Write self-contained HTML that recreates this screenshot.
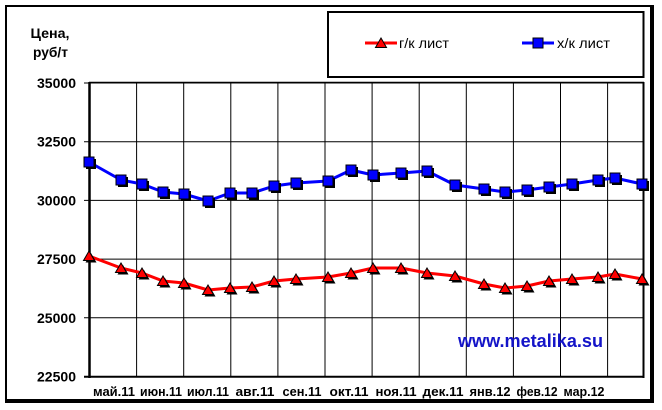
<!DOCTYPE html>
<html><head><meta charset="utf-8"><style>
html,body{margin:0;padding:0;background:#fff;}
svg{display:block;}
text{font-family:"Liberation Sans",Arial,sans-serif;}
</style></head><body>
<svg width="662" height="410" viewBox="0 0 662 410" xmlns="http://www.w3.org/2000/svg">
<rect x="0" y="0" width="662" height="410" fill="#fff"/>
<!-- outer frame -->
<rect x="5" y="5" width="649" height="2" fill="#000"/>
<rect x="5" y="5" width="2" height="398" fill="#000"/>
<rect x="650" y="5" width="4" height="398" fill="#000"/>
<rect x="5" y="399" width="649" height="4" fill="#000"/>

<!-- legend box -->
<rect x="328" y="12" width="315.5" height="65" fill="#fff" stroke="#000" stroke-width="2"/>
<line x1="365" y1="43" x2="397" y2="43" stroke="#f00" stroke-width="3"/>
<polygon points="381,38 375.5,47.5 386.5,47.5" fill="#f00" stroke="#000" stroke-width="1"/>
<text x="399" y="48" font-size="14" fill="#000" textLength="50" lengthAdjust="spacingAndGlyphs">г/к лист</text>
<line x1="522" y1="43" x2="554" y2="43" stroke="#00f" stroke-width="3"/>
<rect x="533" y="38" width="10" height="10" fill="#00f" stroke="#000" stroke-width="1"/>
<text x="557" y="48" font-size="14" fill="#000" textLength="53" lengthAdjust="spacingAndGlyphs">х/к лист</text>

<!-- y title -->
<text x="50" y="38" font-size="13.5" font-weight="bold" text-anchor="middle" textLength="39" lengthAdjust="spacingAndGlyphs">Цена,</text>
<text x="50.5" y="57" font-size="13.5" font-weight="bold" text-anchor="middle" textLength="35" lengthAdjust="spacingAndGlyphs">руб/т</text>

<!-- grid -->
<g stroke="#000" stroke-width="1">
<line x1="89" y1="83" x2="644" y2="83"/>
<line x1="84" y1="141.7" x2="644" y2="141.7"/>
<line x1="84" y1="200.4" x2="644" y2="200.4"/>
<line x1="84" y1="259.1" x2="644" y2="259.1"/>
<line x1="84" y1="317.8" x2="644" y2="317.8"/>
<line x1="84" y1="83" x2="90" y2="83"/>
<line x1="84" y1="376.5" x2="90" y2="376.5"/>
<line x1="136.6" y1="83" x2="136.6" y2="377"/>
<line x1="183.7" y1="83" x2="183.7" y2="377"/>
<line x1="230.8" y1="83" x2="230.8" y2="377"/>
<line x1="277.9" y1="83" x2="277.9" y2="377"/>
<line x1="325" y1="83" x2="325" y2="377"/>
<line x1="372.1" y1="83" x2="372.1" y2="377"/>
<line x1="419.2" y1="83" x2="419.2" y2="377"/>
<line x1="466.3" y1="83" x2="466.3" y2="377"/>
<line x1="513.4" y1="83" x2="513.4" y2="377"/>
<line x1="560.5" y1="83" x2="560.5" y2="377"/>
<line x1="607.6" y1="83" x2="607.6" y2="377"/>
</g>
<line x1="643.5" y1="82" x2="643.5" y2="378" stroke="#000" stroke-width="2"/>
<line x1="89" y1="82.5" x2="644" y2="82.5" stroke="#000" stroke-width="1.5"/>
<line x1="89.5" y1="82" x2="89.5" y2="378" stroke="#000" stroke-width="2.5"/>
<line x1="84" y1="376.8" x2="644" y2="376.8" stroke="#000" stroke-width="2"/>

<!-- y labels -->
<g font-size="14" font-weight="bold" text-anchor="end">
<text x="76" y="88" textLength="39" lengthAdjust="spacingAndGlyphs">35000</text>
<text x="76" y="146.7" textLength="39" lengthAdjust="spacingAndGlyphs">32500</text>
<text x="76" y="205.4" textLength="39" lengthAdjust="spacingAndGlyphs">30000</text>
<text x="76" y="264.1" textLength="39" lengthAdjust="spacingAndGlyphs">27500</text>
<text x="76" y="322.8" textLength="39" lengthAdjust="spacingAndGlyphs">25000</text>
<text x="76" y="381.5" textLength="39" lengthAdjust="spacingAndGlyphs">22500</text>
</g>

<!-- x labels -->
<g font-size="13" font-weight="bold" text-anchor="middle">
<text x="114" y="396" textLength="42" lengthAdjust="spacingAndGlyphs">май.11</text>
<text x="161" y="396" textLength="42" lengthAdjust="spacingAndGlyphs">июн.11</text>
<text x="208" y="396" textLength="42" lengthAdjust="spacingAndGlyphs">июл.11</text>
<text x="255" y="396" textLength="39" lengthAdjust="spacingAndGlyphs">авг.11</text>
<text x="302" y="396" textLength="39" lengthAdjust="spacingAndGlyphs">сен.11</text>
<text x="349" y="396" textLength="39" lengthAdjust="spacingAndGlyphs">окт.11</text>
<text x="396" y="396" textLength="41" lengthAdjust="spacingAndGlyphs">ноя.11</text>
<text x="443" y="396" textLength="41" lengthAdjust="spacingAndGlyphs">дек.11</text>
<text x="490" y="396" textLength="41" lengthAdjust="spacingAndGlyphs">янв.12</text>
<text x="537" y="396" textLength="41" lengthAdjust="spacingAndGlyphs">фев.12</text>
<text x="584" y="396" textLength="41" lengthAdjust="spacingAndGlyphs">мар.12</text>
</g>

<!-- watermark -->
<text x="458" y="347" font-size="18" font-weight="bold" fill="#1414c8" textLength="145" lengthAdjust="spacingAndGlyphs">www.metalika.su</text>

<!-- series lines -->
<polyline fill="none" stroke="#00f" stroke-width="3" stroke-linejoin="round"
 points="89,162 121,180 142,184 163,192 184,194 208,201 230,193 252,193 274,186 296,183 328,181 351,170 373,175 401,173 427,171 455,185 484,189 505,192 527,190 549,187 572,184 598,180 615,178 642,184"/>
<polyline fill="none" stroke="#f00" stroke-width="3" stroke-linejoin="round"
 points="89,256 121,268 142,273 163,281 184,283 208,290 230,288 252,287 274,281 296,279 328,277 351,273 373,268 401,268 427,273 455,276 484,284 505,288 527,286 549,281 572,279 598,277 615,274 642,279"/>

<!-- blue markers -->
<g id="bs">
<g fill="#000">
<rect x="86" y="159" width="10" height="10"/><rect x="118" y="177" width="10" height="10"/><rect x="139" y="181" width="10" height="10"/><rect x="160" y="189" width="10" height="10"/><rect x="181" y="191" width="10" height="10"/><rect x="205" y="198" width="10" height="10"/><rect x="227" y="190" width="10" height="10"/><rect x="249" y="190" width="10" height="10"/><rect x="271" y="183" width="10" height="10"/><rect x="293" y="180" width="10" height="10"/><rect x="325" y="178" width="10" height="10"/><rect x="348" y="167" width="10" height="10"/><rect x="370" y="172" width="10" height="10"/><rect x="398" y="170" width="10" height="10"/><rect x="424" y="168" width="10" height="10"/><rect x="452" y="182" width="10" height="10"/><rect x="481" y="186" width="10" height="10"/><rect x="502" y="189" width="10" height="10"/><rect x="524" y="187" width="10" height="10"/><rect x="546" y="184" width="10" height="10"/><rect x="569" y="181" width="10" height="10"/><rect x="595" y="177" width="10" height="10"/><rect x="612" y="175" width="10" height="10"/><rect x="639" y="181" width="10" height="10"/>
</g>
<g fill="#00f" stroke="#000" stroke-width="1">
<rect x="84" y="157" width="10" height="10"/><rect x="116" y="175" width="10" height="10"/><rect x="137" y="179" width="10" height="10"/><rect x="158" y="187" width="10" height="10"/><rect x="179" y="189" width="10" height="10"/><rect x="203" y="196" width="10" height="10"/><rect x="225" y="188" width="10" height="10"/><rect x="247" y="188" width="10" height="10"/><rect x="269" y="181" width="10" height="10"/><rect x="291" y="178" width="10" height="10"/><rect x="323" y="176" width="10" height="10"/><rect x="346" y="165" width="10" height="10"/><rect x="368" y="170" width="10" height="10"/><rect x="396" y="168" width="10" height="10"/><rect x="422" y="166" width="10" height="10"/><rect x="450" y="180" width="10" height="10"/><rect x="479" y="184" width="10" height="10"/><rect x="500" y="187" width="10" height="10"/><rect x="522" y="185" width="10" height="10"/><rect x="544" y="182" width="10" height="10"/><rect x="567" y="179" width="10" height="10"/><rect x="593" y="175" width="10" height="10"/><rect x="610" y="173" width="10" height="10"/><rect x="637" y="179" width="10" height="10"/>
</g>
</g>

<!-- red markers -->
<defs>
<polygon id="trs" points="0,-5 -5.5,4.5 5.5,4.5" fill="#000" transform="translate(2,2)"/>
<polygon id="tr" points="0,-5 -5.5,4.5 5.5,4.5" fill="#f00" stroke="#000" stroke-width="1"/>
</defs>
<g>
<use href="#trs" x="89" y="256"/><use href="#tr" x="89" y="256"/>
<use href="#trs" x="121" y="268"/><use href="#tr" x="121" y="268"/>
<use href="#trs" x="142" y="273"/><use href="#tr" x="142" y="273"/>
<use href="#trs" x="163" y="281"/><use href="#tr" x="163" y="281"/>
<use href="#trs" x="184" y="283"/><use href="#tr" x="184" y="283"/>
<use href="#trs" x="208" y="290"/><use href="#tr" x="208" y="290"/>
<use href="#trs" x="230" y="288"/><use href="#tr" x="230" y="288"/>
<use href="#trs" x="252" y="287"/><use href="#tr" x="252" y="287"/>
<use href="#trs" x="274" y="281"/><use href="#tr" x="274" y="281"/>
<use href="#trs" x="296" y="279"/><use href="#tr" x="296" y="279"/>
<use href="#trs" x="328" y="277"/><use href="#tr" x="328" y="277"/>
<use href="#trs" x="351" y="273"/><use href="#tr" x="351" y="273"/>
<use href="#trs" x="373" y="268"/><use href="#tr" x="373" y="268"/>
<use href="#trs" x="401" y="268"/><use href="#tr" x="401" y="268"/>
<use href="#trs" x="427" y="273"/><use href="#tr" x="427" y="273"/>
<use href="#trs" x="455" y="276"/><use href="#tr" x="455" y="276"/>
<use href="#trs" x="484" y="284"/><use href="#tr" x="484" y="284"/>
<use href="#trs" x="505" y="288"/><use href="#tr" x="505" y="288"/>
<use href="#trs" x="527" y="286"/><use href="#tr" x="527" y="286"/>
<use href="#trs" x="549" y="281"/><use href="#tr" x="549" y="281"/>
<use href="#trs" x="572" y="279"/><use href="#tr" x="572" y="279"/>
<use href="#trs" x="598" y="277"/><use href="#tr" x="598" y="277"/>
<use href="#trs" x="615" y="274"/><use href="#tr" x="615" y="274"/>
<use href="#trs" x="642" y="279"/><use href="#tr" x="642" y="279"/>
</g>
</svg>
</body></html>
